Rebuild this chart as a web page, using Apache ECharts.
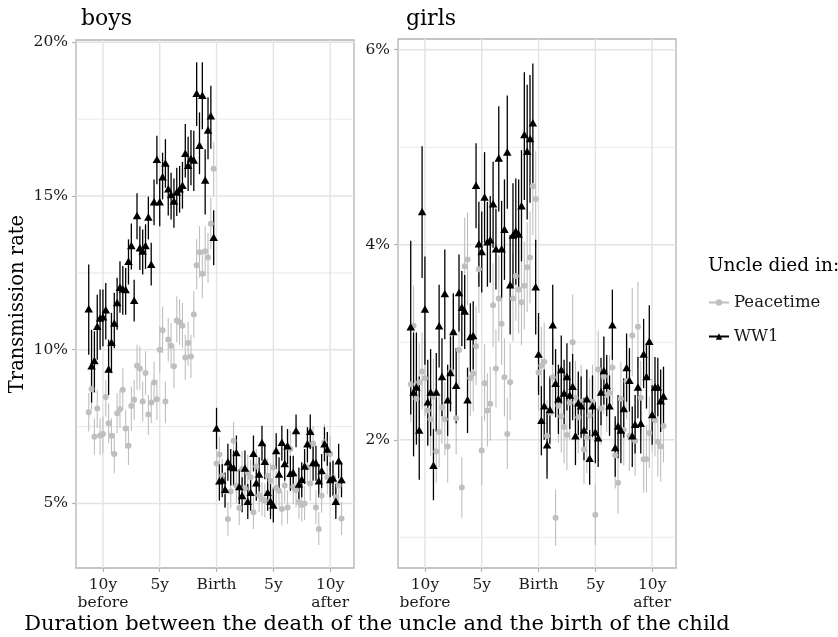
<!DOCTYPE html>
<html>
<head>
<meta charset="utf-8">
<script src="https://cdn.jsdelivr.net/npm/echarts@6/dist/echarts.min.js"></script>
<style>
  html, body { margin: 0; background: #fff; }
  #chart { width: 838px; height: 637px; }
</style>
</head>
<body>
<div id="chart"></div>
<script>
// quarters between the death of the uncle and the birth of the child (negative = before)
var quarters = [-45,-44,-43,-42,-41,-40,-39,-38,-37,-36,-35,-34,-33,-32,-31,-30,-29,-28,-27,-26,-25,-24,-23,-22,-21,-20,-19,-18,-17,-16,-15,-14,-13,-12,-11,-10,-9,-8,-7,-6,-5,-4,-3,-2,-1,
  0,1,2,3,4,5,6,7,8,9,10,11,12,13,14,15,16,17,18,19,20,21,22,23,24,25,26,27,28,29,30,31,32,33,34,35,36,37,38,39,40,41,42,43,44];

var xBreaks = [-10, -5, 0, 5, 10];
var xLabels = ['10y\nbefore', '5y', 'Birth', '5y', '10y\nafter'];

// boys, transmission rate in %
var boysWarRate = [11.33,9.48,9.65,10.76,11.03,11.07,11.30,9.37,10.24,10.87,11.54,12.03,11.98,11.96,12.88,13.39,11.61,14.37,13.32,13.21,13.39,14.32,12.78,14.81,16.20,14.81,15.63,16.07,15.24,15.05,14.84,15.13,15.24,15.35,16.39,16.00,16.22,16.17,18.34,16.65,18.28,15.52,17.15,17.61,13.66,
  7.45,5.74,5.76,5.46,6.36,6.20,6.17,6.66,5.55,5.26,6.15,5.07,5.36,6.63,5.67,5.96,6.98,6.37,5.36,5.07,4.95,6.72,5.96,6.99,6.30,6.88,5.98,6.01,7.37,5.63,5.79,6.22,6.94,7.35,6.33,6.32,5.74,6.07,6.94,6.77,5.78,5.83,5.07,6.39,5.78];
var boysWarHigh = [12.77,10.65,10.60,11.79,11.96,11.96,12.17,10.33,11.20,11.85,12.34,12.88,12.72,12.66,13.59,14.11,12.28,15.09,14.02,13.91,14.08,14.98,13.48,15.54,16.96,15.54,16.41,16.85,15.98,15.76,15.57,15.92,15.98,16.11,17.34,16.93,17.15,17.12,19.35,17.72,19.35,16.52,18.21,18.59,14.54,
  8.11,6.28,6.28,6.01,6.94,6.77,6.72,7.21,6.12,5.85,6.72,5.63,5.90,7.21,6.23,6.50,7.53,6.94,5.90,5.63,5.52,7.28,6.50,7.53,6.88,7.42,6.55,6.55,7.89,6.17,6.34,6.77,7.48,7.89,6.88,6.88,6.28,6.61,7.48,7.32,6.34,6.39,5.63,6.94,6.34];
var boysWarLow = [9.84,8.28,8.61,9.67,10.00,10.11,10.33,8.53,9.24,10.05,10.65,11.20,11.14,11.14,12.12,12.61,10.92,13.59,12.59,12.45,12.63,13.59,12.09,14.05,15.38,14.02,14.89,15.27,14.37,14.24,13.97,14.35,14.46,14.59,15.60,15.16,15.35,15.16,17.28,15.71,17.17,14.40,16.20,16.54,12.75,
  6.77,5.09,5.20,4.87,5.74,5.58,5.58,6.07,4.98,4.71,5.58,4.49,4.76,6.04,5.09,5.39,6.39,5.79,4.76,4.49,4.38,6.12,5.41,6.39,5.74,6.28,5.41,5.43,6.83,5.09,5.20,5.63,6.34,6.77,5.74,5.74,5.20,5.50,6.37,6.23,5.20,5.25,4.49,5.83,5.20];

var boysPeaceRate = [7.97,8.72,7.17,8.09,7.21,7.26,8.46,7.61,7.20,6.61,7.93,8.06,8.70,7.44,6.88,8.17,8.37,9.48,9.39,8.32,9.24,7.89,8.28,8.93,8.39,10.00,10.63,8.32,10.33,10.13,9.46,10.95,10.89,10.78,9.75,10.22,9.78,11.15,12.75,13.17,12.47,13.20,13.00,14.10,15.89,
  6.30,6.59,5.90,5.40,4.49,5.39,7.04,5.58,4.85,6.12,5.49,6.00,5.85,4.71,6.20,5.27,5.14,5.09,5.90,5.74,6.17,5.50,5.41,4.82,5.58,4.87,6.77,5.54,5.43,5.05,4.95,5.00,6.17,5.65,6.94,4.87,4.17,5.25,6.99,5.85,6.61,5.85,5.20,5.58,4.51];
var boysPeaceHigh = [8.59,9.35,7.77,8.70,7.77,7.83,9.02,8.26,7.77,7.28,8.59,8.70,9.40,8.04,7.50,8.80,9.02,10.16,10.11,8.97,9.95,8.53,8.91,9.62,9.02,10.76,11.41,8.97,11.03,10.87,10.16,11.74,11.63,11.52,10.49,10.92,10.49,11.90,13.59,14.02,13.26,14.02,13.80,14.95,16.76,
  6.88,7.17,6.46,5.96,5.04,5.95,7.65,6.15,5.41,6.70,6.06,6.58,6.42,5.27,6.78,5.83,5.70,5.65,6.47,6.31,6.75,6.07,5.97,5.38,6.15,5.43,7.37,6.11,5.99,5.61,5.51,5.56,6.75,6.22,7.53,5.43,4.71,5.81,7.58,6.42,7.20,6.42,5.76,6.15,5.06];
var boysPeaceLow = [7.34,8.04,6.58,7.45,6.58,6.63,7.83,6.96,6.58,5.98,7.28,7.45,8.04,6.79,6.25,7.36,7.72,8.70,8.70,7.66,8.53,7.23,7.61,8.26,7.72,9.24,9.89,7.61,9.62,9.40,8.75,10.24,10.16,10.05,9.02,9.48,9.08,10.40,11.96,12.34,11.68,12.39,12.17,13.26,15.00,
  5.74,6.03,5.34,4.85,3.95,4.84,6.45,5.02,4.30,5.55,4.93,5.44,5.29,4.17,5.63,4.72,4.59,4.54,5.34,5.18,5.60,4.94,4.86,4.28,5.02,4.33,6.19,4.98,4.88,4.50,4.41,4.45,5.60,5.09,6.36,4.33,3.65,4.70,6.41,5.29,6.04,5.29,4.65,5.02,3.97];

// girls, transmission rate in %
var girlsWarRate = [3.16,2.49,2.54,2.10,4.34,3.34,2.39,2.49,1.74,2.49,3.17,2.65,3.50,2.41,2.69,3.11,2.56,3.51,3.36,3.32,2.41,3.06,3.07,4.61,4.01,3.93,4.49,4.03,4.05,4.42,3.96,4.89,3.96,4.16,4.95,3.59,4.10,4.14,4.11,4.40,5.13,4.96,5.09,5.25,3.57,
  2.88,2.20,2.35,1.95,2.31,3.18,2.58,2.42,2.72,2.48,2.65,2.46,2.55,2.04,2.38,2.35,2.10,2.42,1.81,2.35,2.08,2.02,2.49,2.71,2.56,2.35,3.18,1.92,2.14,2.10,2.32,2.74,2.61,2.04,2.16,2.54,2.17,2.88,2.65,3.01,2.26,2.54,2.54,2.40,2.45];
var girlsWarHigh = [4.04,3.10,3.10,2.65,5.01,3.88,2.82,2.93,2.11,2.89,3.59,3.04,3.95,2.77,3.06,3.50,2.94,3.90,3.73,3.69,2.74,3.40,3.42,5.04,4.44,4.34,4.95,4.44,4.50,4.85,4.37,5.42,4.45,4.67,5.53,4.10,4.63,4.68,4.67,4.97,5.77,5.64,5.74,5.86,4.05,
  3.30,2.55,2.72,2.29,2.65,3.59,2.93,2.77,3.07,2.82,2.99,2.80,2.88,2.37,2.70,2.65,2.43,2.72,2.10,2.66,2.39,2.32,2.84,3.06,2.87,2.66,3.54,2.24,2.46,2.43,2.63,3.09,2.94,2.34,2.46,2.85,2.46,3.24,2.99,3.38,2.56,2.85,2.84,2.72,2.75];
var girlsWarLow = [2.26,1.83,1.95,1.59,3.66,2.77,1.94,2.04,1.38,2.08,2.74,2.24,3.03,2.04,2.29,2.72,2.17,3.11,2.96,2.93,2.07,2.70,2.72,4.17,3.57,3.51,4.02,3.57,3.61,3.97,3.54,4.34,3.45,3.64,4.37,3.08,3.57,3.59,3.56,3.83,4.46,4.26,4.43,4.63,3.08,
  2.46,1.84,2.00,1.60,1.96,2.77,2.23,2.06,2.37,2.14,2.30,2.11,2.20,1.74,2.05,2.02,1.79,2.10,1.54,2.03,1.76,1.72,2.15,2.36,2.24,2.04,2.82,1.62,1.81,1.76,2.02,2.39,2.29,1.72,1.86,2.22,1.86,2.53,2.32,2.62,1.95,2.22,2.24,2.08,2.15];

var girlsPeaceRate = [2.57,3.17,2.42,2.59,2.70,2.63,2.30,2.21,2.44,1.88,2.08,2.33,2.21,1.93,2.70,3.10,2.22,2.92,1.51,3.78,3.85,2.63,2.68,2.96,3.75,1.89,2.58,2.30,2.37,3.38,2.73,3.45,3.19,2.64,2.06,2.59,3.45,3.68,3.54,3.41,3.58,3.77,3.87,4.60,4.47,
  2.69,2.76,2.80,2.04,2.28,2.64,1.20,2.35,2.24,2.13,2.05,2.38,3.00,2.43,2.23,2.39,1.90,2.02,2.25,2.39,1.23,2.72,2.32,2.65,2.46,2.48,2.74,1.84,1.56,2.42,2.10,2.60,2.04,3.07,1.99,3.16,2.43,1.80,1.80,2.07,2.25,2.20,1.98,1.93,2.14];
var girlsPeaceHigh = [2.97,3.58,2.80,2.99,3.10,3.03,2.68,2.58,2.83,2.26,2.45,2.71,2.59,2.30,3.10,3.51,2.60,3.29,1.82,4.28,4.33,3.03,3.08,3.37,4.21,2.24,2.98,2.68,2.75,3.81,3.13,3.89,3.61,3.04,2.43,2.99,3.90,4.14,3.99,3.85,4.03,4.23,4.34,5.10,4.96,
  3.09,3.16,3.20,2.41,2.66,3.04,1.49,2.73,2.62,2.50,2.42,2.76,3.49,2.81,2.61,2.77,2.26,2.39,2.63,2.77,1.54,3.12,2.70,3.05,2.85,2.87,3.14,2.19,1.89,2.80,2.47,3.00,2.41,3.56,2.35,3.62,2.81,2.15,2.15,2.44,2.63,2.58,2.35,2.30,2.51];
var girlsPeaceLow = [2.18,2.75,2.04,2.20,2.31,2.24,1.93,1.83,2.06,1.56,1.72,1.96,1.84,1.56,2.31,2.68,1.85,2.54,1.20,3.29,3.38,2.24,2.29,2.56,3.30,1.54,2.19,1.93,1.99,2.95,2.33,3.01,2.77,2.24,1.70,2.20,3.01,3.22,3.09,2.97,3.13,3.31,3.40,4.10,3.98,
  2.30,2.37,2.40,1.68,1.91,2.25,0.91,1.97,1.87,1.76,1.69,2.00,2.51,2.05,1.86,2.01,1.55,1.66,1.88,2.01,0.92,2.32,1.95,2.26,2.08,2.10,2.35,1.50,1.24,2.04,1.74,2.21,1.68,2.65,1.63,2.73,2.05,1.46,1.46,1.71,1.88,1.83,1.62,1.57,1.77];

var boysMajorY = [5, 10, 15, 20];
var boysMinorY = [7.5, 12.5, 17.5];
var girlsMajorY = [2, 4, 6];
var girlsMinorY = [1, 3, 5];

var years = quarters.map(function (q) { return q / 4; });

var FONT = 'DejaVu Serif';
var GREY = '#bfbfbf';
var BLACK = '#000000';
var GRIDLINE = '#e3e3e3';

var chart = echarts.init(document.getElementById('chart'));

function hLines(idx, values, width) {
  return {
    type: 'custom', xAxisIndex: idx, yAxisIndex: idx, silent: true, z: 1,
    data: values.map(function (v) { return [0, v]; }),
    renderItem: function (params, api) {
      var cs = params.coordSys;
      var y = api.coord([0, api.value(1)])[1];
      return { type: 'line', shape: { x1: cs.x, y1: y, x2: cs.x + cs.width, y2: y },
        style: { stroke: GRIDLINE, lineWidth: width } };
    }
  };
}

function vLines(idx, values, width) {
  return {
    type: 'custom', xAxisIndex: idx, yAxisIndex: idx, silent: true, z: 1,
    data: values.map(function (v) { return [v, idx === 0 ? 10 : 3]; }),
    renderItem: function (params, api) {
      var cs = params.coordSys;
      var x = api.coord([api.value(0), api.value(1)])[0];
      return { type: 'line', shape: { x1: x, y1: cs.y, x2: x, y2: cs.y + cs.height },
        style: { stroke: GRIDLINE, lineWidth: width } };
    }
  };
}

function errorBars(name, idx, rate, lo, hi, color, width) {
  return {
    type: 'custom', name: name, xAxisIndex: idx, yAxisIndex: idx, silent: true, z: 2,
    data: years.map(function (x, i) { return [x, lo[i], hi[i]]; }),
    encode: { x: 0, y: [1, 2] },
    renderItem: function (params, api) {
      var a = api.coord([api.value(0), api.value(1)]);
      var b = api.coord([api.value(0), api.value(2)]);
      return { type: 'line', shape: { x1: a[0], y1: a[1], x2: b[0], y2: b[1] },
        style: { stroke: color, lineWidth: width } };
    }
  };
}

function points(name, idx, rate, symbol, size, color) {
  return {
    type: 'scatter', name: name, xAxisIndex: idx, yAxisIndex: idx, z: 2,
    symbol: symbol, symbolSize: size, silent: true,
    itemStyle: { color: color, opacity: 1 },
    data: years.map(function (x, i) { return [x, rate[i]]; })
  };
}

function xAxis(idx) {
  return {
    type: 'value', gridIndex: idx, min: -12.37, max: 12.1,
    splitLine: { show: false },
    axisLine: { show: false },
    axisTick: { show: true, customValues: xBreaks, length: 4, lineStyle: { color: '#b3b3b3', width: 1.2 } },
    axisLabel: {
      customValues: xBreaks, margin: 8, fontFamily: FONT, fontSize: 15.5, color: '#1a1a1a', lineHeight: 18,
      formatter: function (v) { return xLabels[xBreaks.indexOf(v)]; }
    }
  };
}

function yAxis(idx, min, max, ticks) {
  return {
    type: 'value', gridIndex: idx, min: min, max: max,
    splitLine: { show: false },
    axisLine: { show: false, onZero: false },
    axisTick: { show: true, customValues: ticks, length: 4, lineStyle: { color: '#b3b3b3', width: 1.2 } },
    axisLabel: {
      customValues: ticks, margin: 8, fontFamily: FONT, fontSize: 15.5, color: '#1a1a1a',
      formatter: function (v) { return v + '%'; }
    }
  };
}

var boysY = yAxis(0, 2.9, 20.075, boysMajorY);
boysY.name = 'Transmission rate';
boysY.nameLocation = 'middle';
boysY.nameGap = 48;
boysY.nameTextStyle = { fontFamily: FONT, fontSize: 19.5, color: '#000' };

var option = {
  backgroundColor: '#ffffff',
  animation: false,
  title: [
    { text: 'boys', left: 76, top: 3, textStyle: { fontFamily: FONT, fontSize: 22, fontWeight: 'normal', color: '#000' } },
    { text: 'girls', left: 401, top: 3, textStyle: { fontFamily: FONT, fontSize: 22, fontWeight: 'normal', color: '#000' } },
    { text: 'Uncle died in:', left: 703, top: 252, textStyle: { fontFamily: FONT, fontSize: 18.5, fontWeight: 'normal', color: '#000' } }
  ],
  legend: {
    data: ['Peacetime', 'WW1'],
    orient: 'vertical', left: 708, top: 294, padding: 0,
    itemWidth: 20, itemHeight: 8, itemGap: 17,
    textStyle: { fontFamily: FONT, fontSize: 16.5, color: '#1a1a1a' },
    selectedMode: false
  },
  graphic: [{
    type: 'text', x: 377, y: 614,
    style: { text: 'Duration between the death of the uncle and the birth of the child',
      fontFamily: FONT, fontSize: 21, fill: '#000', textAlign: 'center' }
  }],
  grid: [
    { left: 76, top: 40, width: 278, height: 528, show: true, borderColor: '#b3b3b3', borderWidth: 1.3, backgroundColor: 'transparent' },
    { left: 398, top: 39, width: 278, height: 529, show: true, borderColor: '#b3b3b3', borderWidth: 1.3, backgroundColor: 'transparent' }
  ],
  xAxis: [xAxis(0), xAxis(1)],
  yAxis: [boysY, yAxis(1, 0.685, 6.11, girlsMajorY)],
  series: [
    { type: 'line', name: 'Peacetime', data: [], symbol: 'circle', symbolSize: 6,
      itemStyle: { color: GREY }, lineStyle: { color: GREY, width: 1.2 } },
    { type: 'line', name: 'WW1', data: [], symbol: 'triangle', symbolSize: 8,
      itemStyle: { color: BLACK }, lineStyle: { color: BLACK, width: 1.2 } },

    hLines(0, boysMinorY, 0.8), hLines(0, boysMajorY, 1.4), vLines(0, xBreaks, 1.4),
    hLines(1, girlsMinorY, 0.8), hLines(1, girlsMajorY, 1.4), vLines(1, xBreaks, 1.4),

    errorBars('Peacetime', 0, boysPeaceRate, boysPeaceLow, boysPeaceHigh, GREY, 1.1),
    points('Peacetime', 0, boysPeaceRate, 'circle', 6, GREY),
    errorBars('WW1', 0, boysWarRate, boysWarLow, boysWarHigh, BLACK, 1.3),
    points('WW1', 0, boysWarRate, 'triangle', [8.5, 7.5], BLACK),

    errorBars('Peacetime', 1, girlsPeaceRate, girlsPeaceLow, girlsPeaceHigh, GREY, 1.1),
    points('Peacetime', 1, girlsPeaceRate, 'circle', 6, GREY),
    errorBars('WW1', 1, girlsWarRate, girlsWarLow, girlsWarHigh, BLACK, 1.3),
    points('WW1', 1, girlsWarRate, 'triangle', [8.5, 7.5], BLACK)
  ]
};

chart.setOption(option);
</script>
</body>
</html>
